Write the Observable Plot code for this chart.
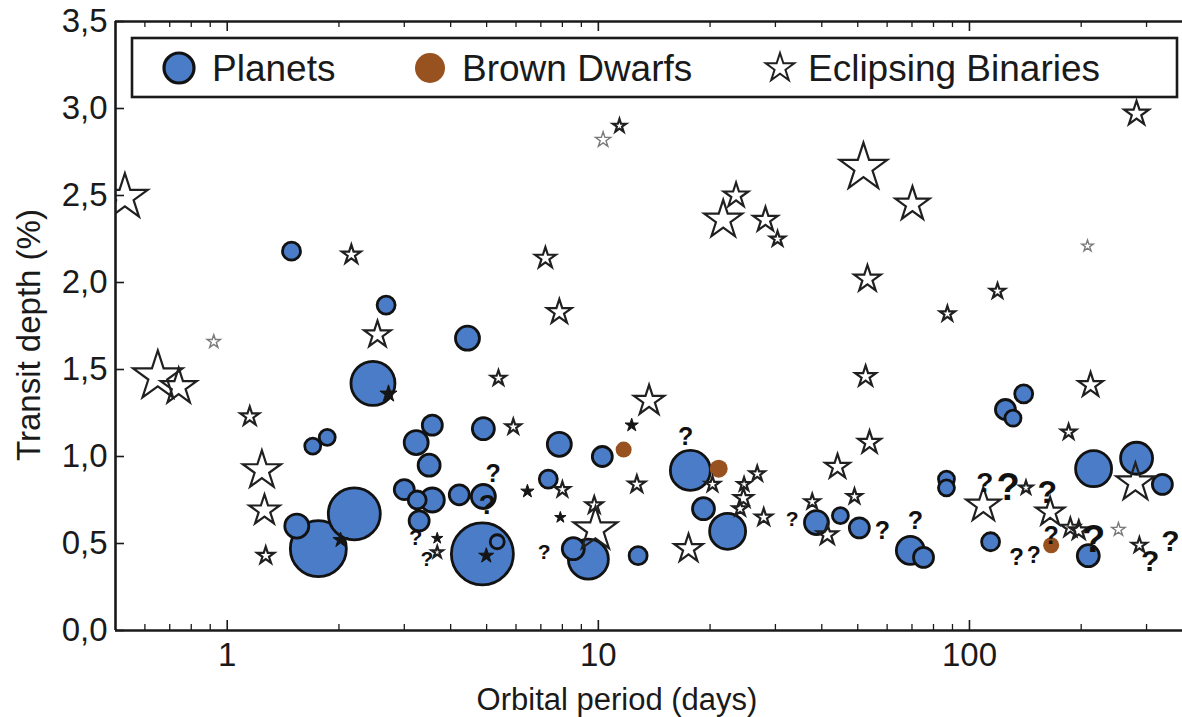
<!DOCTYPE html>
<html>
<head>
<meta charset="utf-8">
<script src="https://cdn.jsdelivr.net/npm/d3@7"></script>
<script src="https://cdn.jsdelivr.net/npm/@observablehq/plot@0.6"></script>
<style>
  html, body { margin: 0; padding: 0; background: #ffffff; }
  #chart { width: 1182px; height: 717px; }
</style>
</head>
<body>
<div id="chart"></div>
<script>
// ---------- DATA ----------
// Planets (blue circles): orbital period (days), transit depth (%), marker radius
const planetPeriod = [1.49, 2.68, 4.44, 2.47, 1.70, 1.86, 1.54, 1.76, 2.20, 3.23, 3.57, 3.50, 3.00, 3.25, 3.57, 3.29, 4.22, 4.90, 4.90, 4.87, 5.34, 7.85, 7.33, 10.25, 8.56, 9.40, 12.8, 17.7, 19.2, 22.3, 38.7, 44.9, 50.5, 69.3, 75.2, 86.7, 86.7, 114, 125, 131, 140, 216, 282, 331, 209];
const planetDepth  = [2.18, 1.87, 1.68, 1.42, 1.06, 1.11, 0.60, 0.47, 0.67, 1.08, 1.18, 0.95, 0.81, 0.75, 0.75, 0.63, 0.78, 0.77, 1.16, 0.44, 0.51, 1.07, 0.87, 1.00, 0.47, 0.41, 0.43, 0.92, 0.70, 0.57, 0.62, 0.66, 0.59, 0.46, 0.42, 0.87, 0.82, 0.51, 1.27, 1.22, 1.36, 0.93, 0.99, 0.84, 0.43];
const planetSize   = [9, 9, 12, 22, 8, 8, 12, 28, 26, 12, 10, 11, 10, 9, 12, 10, 10, 12, 11, 31, 7, 12, 9, 10, 11, 20, 9, 20, 11, 18, 12, 8, 10, 14, 10, 8, 8, 9, 10, 8, 9, 18, 16, 10, 11];

// Brown dwarfs (brown dots)
const dwarfPeriod = [11.7, 21.1, 166];
const dwarfDepth  = [1.04, 0.93, 0.49];
const dwarfSize   = [8, 9, 8];

// Eclipsing binaries (open stars): period, depth, outer star radius
const ebPeriod = [0.53, 0.65, 0.74, 1.15, 1.24, 1.26, 1.27, 2.16, 2.54, 5.38, 5.90, 7.20, 7.85, 13.7, 12.7, 9.82, 9.75, 8.0, 17.5, 20.3, 26.8, 24.7, 24.6, 24.1, 27.9, 11.4, 21.7, 23.5, 28.2, 30.4, 51.8, 70.2, 282, 53.1, 119, 87.2, 52.5, 53.8, 44.1, 37.7, 49.0, 41.4, 212, 185, 109, 142, 165, 187, 197, 287, 280, 3.68];
const ebDepth  = [2.49, 1.46, 1.40, 1.23, 0.92, 0.69, 0.43, 2.16, 1.70, 1.45, 1.17, 2.14, 1.83, 1.32, 0.84, 0.58, 0.72, 0.81, 0.47, 0.84, 0.90, 0.84, 0.76, 0.70, 0.65, 2.90, 2.36, 2.50, 2.36, 2.25, 2.66, 2.45, 2.97, 2.02, 1.95, 1.82, 1.46, 1.08, 0.94, 0.74, 0.77, 0.55, 1.41, 1.14, 0.72, 0.82, 0.68, 0.59, 0.575, 0.49, 0.85, 0.45];
const ebSize   = [24, 26, 19, 10, 20, 16, 9, 10, 14, 8, 8, 11, 13, 16, 9, 23, 9, 8, 15, 8, 8, 7, 10, 8, 9, 7, 20, 13, 13, 8, 25, 18, 13, 14, 8, 8, 11, 12, 13, 8, 8, 11, 13, 8, 18, 7, 15, 10, 10, 8, 20, 6];

// Faint (grey) eclipsing binaries
const faintPeriod = [0.92, 10.3, 208, 252];
const faintDepth  = [1.66, 2.82, 2.21, 0.58];
const faintSize   = [7, 8, 6, 7];

// Solid (black) star markers
const solidPeriod = [2.72, 2.02, 3.68, 4.99, 6.44, 7.90, 12.3];
const solidDepth  = [1.36, 0.52, 0.53, 0.43, 0.80, 0.65, 1.18];
const solidSize   = [9, 8, 6, 8, 7, 6, 7];

// Uncertain objects ("?")
const qPeriod = [3.22, 3.45, 5.21, 5.02, 7.15, 17.2, 33.3, 58.3, 71.5, 110, 127, 162, 134, 149, 166, 216, 307, 348];
const qDepth  = [0.53, 0.41, 0.90, 0.72, 0.45, 1.11, 0.64, 0.57, 0.63, 0.85, 0.82, 0.79, 0.42, 0.43, 0.545, 0.52, 0.40, 0.51];
const qSize   = [22, 21, 25, 28, 21, 25, 21, 25, 25, 28, 38, 32, 24, 23, 25, 38, 30, 30];

// Axis ticks
const xMajorTicks = [1, 10, 100];
const xMinorTicks = [0.6, 0.7, 0.8, 0.9, 2, 3, 4, 5, 6, 7, 8, 9, 20, 30, 40, 50, 60, 70, 80, 90, 200, 300];
const yTicks = [0, 0.5, 1.0, 1.5, 2.0, 2.5, 3.0, 3.5];
const legendLabels = ["Planets", "Brown Dwarfs", "Eclipsing Binaries"];
const xTitle = "Orbital period (days)";
const yTitle = "Transit depth (%)";

// ---------- BUILD ----------
const zip = (p, d, s) => p.map((v, i) => ({period: v, depth: d[i], size: s[i]}));
const planets = zip(planetPeriod, planetDepth, planetSize);
const dwarfs = zip(dwarfPeriod, dwarfDepth, dwarfSize);
const ebs = zip(ebPeriod, ebDepth, ebSize);
const faints = zip(faintPeriod, faintDepth, faintSize);
const solids = zip(solidPeriod, solidDepth, solidSize);
const qs = zip(qPeriod, qDepth, qSize);

const FONT = "'Liberation Sans', Arial, Helvetica, sans-serif";
const INK = "#1a1a1a";
const BLUE = "#4a7cc8";
const BROWN = "#98521f";
const STAR_K = Math.sqrt(Math.PI * 0.8908130915292852); // outer radius of d3 star per r
const fmtY = d => d.toFixed(1).replace(".", ",");

const plot = Plot.plot({
  width: 1182,
  height: 717,
  marginLeft: 115,
  marginRight: 0,
  marginTop: 21,
  marginBottom: 87,
  style: {fontFamily: FONT, fontSize: "33px", color: INK, background: "#ffffff", overflow: "visible"},
  x: {type: "log", domain: [0.5, 375]},
  y: {domain: [0, 3.5]},
  r: {type: "identity"},
  marks: [
    // ticks (inward)
    Plot.axisX(xMajorTicks, {anchor: "bottom", tickSize: -10, tickPadding: 22, tickFormat: d => String(d), fontSize: 33, label: null, strokeWidth: 1.6}),
    Plot.axisX(xMinorTicks, {anchor: "bottom", tickSize: -6, tickFormat: () => "", label: null, strokeWidth: 1.3}),
    Plot.axisX(xMajorTicks, {anchor: "top", tickSize: -9, tickFormat: () => "", label: null, strokeWidth: 1.6}),
    Plot.axisX(xMinorTicks, {anchor: "top", tickSize: -5, tickFormat: () => "", label: null, strokeWidth: 1.3}),
    Plot.axisY(yTicks, {anchor: "left", tickSize: -9, tickPadding: 17, tickFormat: fmtY, fontSize: 33, label: null, strokeWidth: 1.6}),
    // frame lines
    Plot.ruleY([0, 3.5], {stroke: INK, strokeWidth: 2.6}),
    Plot.ruleX([0.5], {stroke: INK, strokeWidth: 2.6}),
    // data
    Plot.dot(planets, {x: "period", y: "depth", r: "size", fill: BLUE, stroke: "#121212", strokeWidth: 2.8, clip: true}),
    Plot.dot(dwarfs, {x: "period", y: "depth", r: "size", fill: BROWN, stroke: "none"}),
    Plot.dot(ebs, {x: "period", y: "depth", r: d => d.size / STAR_K, symbol: "star", fill: "none", stroke: "#202020", strokeWidth: 2.2, clip: true}),
    Plot.dot(faints, {x: "period", y: "depth", r: d => d.size / STAR_K, symbol: "star", fill: "none", stroke: "#7a7a7a", strokeWidth: 1.4, clip: true}),
    Plot.dot(solids, {x: "period", y: "depth", r: d => d.size / STAR_K, symbol: "star", fill: "#151515", stroke: "#151515", strokeWidth: 1}),
    Plot.text(qs, {x: "period", y: "depth", text: () => "?", fontSize: "size", fontWeight: "bold", fill: "#111111", fontFamily: FONT})
  ]
});

document.getElementById("chart").appendChild(plot);

// ---------- TITLES & LEGEND ----------
const svg = d3.select(plot);

svg.append("text")
  .attr("x", 617).attr("y", 710)
  .attr("text-anchor", "middle")
  .attr("font-family", FONT).attr("font-size", 31).attr("fill", INK)
  .text(xTitle);

svg.append("text")
  .attr("transform", "translate(40,335) rotate(-90)")
  .attr("text-anchor", "middle")
  .attr("font-family", FONT).attr("font-size", 33).attr("fill", INK)
  .text(yTitle);

const lg = svg.append("g");
lg.append("rect")
  .attr("x", 132).attr("y", 38).attr("width", 1045).attr("height", 59)
  .attr("fill", "#ffffff").attr("stroke", INK).attr("stroke-width", 2.6);
lg.append("circle").attr("cx", 179).attr("cy", 68).attr("r", 15)
  .attr("fill", BLUE).attr("stroke", "#121212").attr("stroke-width", 3.2);
lg.append("circle").attr("cx", 430).attr("cy", 68).attr("r", 15)
  .attr("fill", BROWN);
lg.append("path")
  .attr("transform", "translate(780,68)")
  .attr("d", d3.symbol(d3.symbolStar, 15 * 15 / 0.8908130915292852)())
  .attr("fill", "none").attr("stroke", "#202020").attr("stroke-width", 2);
const legX = [212, 462, 808];
legendLabels.forEach((t, i) => {
  lg.append("text").attr("x", legX[i]).attr("y", 81)
    .attr("text-anchor", "start")
    .attr("font-family", FONT).attr("font-size", 37).attr("fill", INK)
    .text(t);
});
</script>
</body>
</html>
